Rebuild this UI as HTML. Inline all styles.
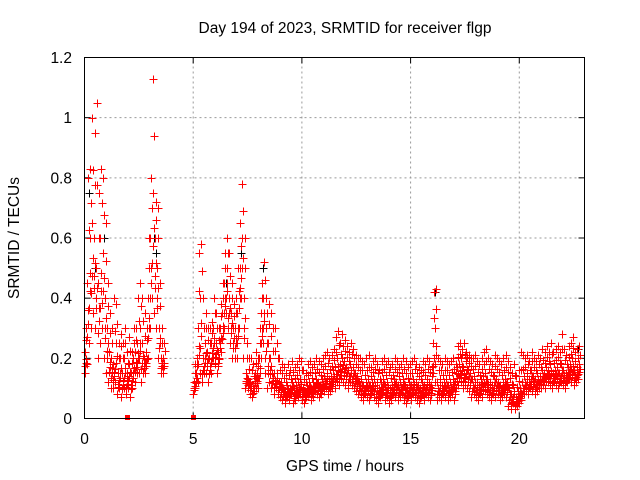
<!DOCTYPE html>
<html><head><meta charset="utf-8"><style>
body{margin:0;background:#fff}
svg{display:block;font-family:"Liberation Sans",Arial,sans-serif}
</style></head><body>
<svg id="chart" width="640" height="480">
<text x="345" y="33" text-anchor="middle" font-size="15.5">Day 194 of 2023, SRMTID for receiver flgp</text>
<text x="345" y="471" text-anchor="middle" font-size="15.5">GPS time / hours</text>
<text transform="translate(19,238) rotate(-90)" text-anchor="middle" font-size="15.5">SRMTID / TECUs</text>
<g id="grid"></g>
<g id="ticks"></g>
<g id="marks"></g>
<rect x="84.5" y="57.5" width="500" height="361" fill="none" stroke="#000"/>
</svg>
<script>
const xTicks=[0,5,10,15,20];
const yTicks=[0,0.2,0.4,0.6,0.8,1,1.2];
const yTickLabels=["0","0.2","0.4","0.6","0.8","1","1.2"];
const seg1Start=0.0;
const seg1Lo=[.15,.18,.25,.3,.35,.3,.2,.25,.3,.2,.15,.12,.1,.1,.12,.08,.1,.07,.1,.08,.1,.07,.1,.12,.15,.15,.12,.15,.15,.2,.3,.4,.35,.3,.2,.15,.15];
const seg1Mid=[.22,.45,.6,.65,.6,.5,.45,.6,.55,.4,.3,.22,.2,.18,.25,.15,.2,.15,.2,.15,.18,.15,.2,.22,.25,.3,.25,.2,.22,.4,.6,.75,.6,.5,.3,.2,.2];
const seg1Hi=[.3,.8,.83,1.0,.95,1.05,.75,.83,.8,.65,.45,.35,.3,.4,.38,.25,.28,.25,.3,.22,.27,.22,.3,.3,.4,.45,.4,.35,.3,.6,.8,1.13,.72,.7,.45,.3,.25];
const seg2Start=5.0;
const seg2Lo=[.08,.1,.12,.15,.12,.15,.15,.12,.15,.2,.18,.15,.2,.22,.3,.35,.3,.25,.2,.2,.2,.3,.4,.2,.1,.1,.08,.07,.1,.1,.1,.2,.25,.15,.1,.12,.1,.08,.1,.08,.07,
.06,.05,.07,.06,.08,.05,.06,.07,.08,.06,.05,.07,.08,.06,.07,.09,.08,.07,.08,.09,.1,.08,.09,.1,
.1,.12,.11,.13,.12,.11,.1,.12,.11,.1,.09,
.08,.07,.06,.08,.07,.06,.08,.07,.06,.05,.07,.08,.06,.07,.05,.06,.08,.07,.06,.07,.08,.06,.05,.07,.06,.08,.07,.06,.05,.07,.06,.08,.07,.06,
.1,.12,.06,.07,.06,.08,.07,.06,.07,.08,.06,
.1,.11,.12,.1,.11,.1,.09,
.07,.08,.07,.06,.08,.07,.09,.08,.07,.06,.08,.07,.08,.06,.07,.08,.07,
.04,.03,.05,.03,.04,.05,.06,
.08,.09,.08,.1,.09,.08,.09,.1,
.1,.11,.1,.12,.11,.1,.12,.11,.1,.12,.11,.1,.12,.13,.12,.11,.12,.13];
const seg2Mid=[.12,.15,.3,.4,.2,.25,.22,.2,.25,.3,.25,.22,.3,.35,.45,.5,.4,.35,.3,.3,.35,.5,.6,.4,.15,.13,.12,.1,.15,.15,.2,.35,.4,.3,.25,.2,.15,.15,.15,.12,.12,
.1,.09,.11,.1,.12,.1,.11,.12,.13,.1,.09,.11,.12,.1,.12,.13,.12,.11,.13,.14,.15,.13,.14,.16,
.17,.2,.18,.2,.19,.17,.16,.18,.17,.15,.14,
.12,.13,.11,.12,.13,.11,.12,.13,.12,.1,.12,.13,.11,.12,.1,.11,.13,.12,.11,.12,.13,.11,.1,.12,.11,.13,.12,.11,.1,.12,.11,.13,.12,.11,
.25,.3,.12,.13,.11,.12,.13,.11,.12,.13,.12,
.17,.18,.2,.17,.19,.16,.15,
.13,.14,.12,.11,.13,.14,.15,.13,.12,.11,.14,.13,.12,.11,.12,.13,.12,
.1,.08,.11,.07,.09,.1,.12,
.14,.15,.13,.16,.14,.13,.15,.14,
.16,.15,.17,.16,.18,.15,.16,.17,.15,.18,.16,.15,.17,.18,.2,.16,.17,.18];
const seg2Hi=[.18,.2,.55,.58,.4,.35,.3,.3,.32,.4,.35,.3,.38,.45,.55,.6,.55,.45,.38,.4,.5,.65,.78,.6,.25,.2,.2,.18,.22,.2,.3,.45,.52,.4,.38,.35,.3,.3,.25,.2,.18,
.17,.15,.18,.16,.19,.17,.18,.2,.19,.16,.15,.18,.19,.17,.18,.2,.19,.18,.2,.21,.22,.2,.21,.23,
.27,.29,.25,.28,.26,.24,.22,.25,.23,.21,.2,
.2,.19,.18,.2,.21,.17,.19,.2,.18,.16,.19,.2,.18,.19,.17,.18,.2,.19,.17,.18,.2,.19,.17,.18,.19,.2,.18,.17,.16,.19,.18,.2,.19,.17,
.42,.43,.2,.19,.18,.2,.19,.18,.19,.2,.18,
.24,.25,.23,.25,.22,.21,.2,
.2,.21,.19,.18,.2,.22,.23,.2,.19,.18,.21,.2,.19,.18,.2,.21,.19,
.17,.15,.18,.14,.16,.22,.21,
.2,.21,.19,.22,.2,.19,.21,.2,
.23,.22,.24,.22,.25,.22,.23,.24,.22,.28,.23,.21,.24,.25,.27,.22,.23,.24];
const blackX=[0.2,0.5,0.9,3.2,3.3,6.5,7.2,8.2,16.1,22.7];
const blackY=[0.75,0.5,0.6,0.6,0.55,0.45,0.55,0.5,0.42,0.23];
const zeroMarkX=[1.95,5.0];

const NS="http://www.w3.org/2000/svg";
const X0=84.5,X1=584.5,XMAX=23,Y0=418.5,Y1=57.5,YMAX=1.2;
function sx(v){return X0+(X1-X0)*v/XMAX;}
function sy(v){return Y0-(Y0-Y1)*v/YMAX;}
function mk(tag,attrs,parent){const e=document.createElementNS(NS,tag);for(const k in attrs)e.setAttribute(k,attrs[k]);parent.appendChild(e);return e;}
const grid=document.getElementById('grid'),ticks=document.getElementById('ticks'),marks=document.getElementById('marks');
xTicks.forEach((t,i)=>{
  const x=sx(t);
  if(t>0){const g=mk('line',{x1:x,x2:x,y1:Y0,y2:Y1,stroke:'#999','stroke-dasharray':'2,3'},grid);
  
  }
  mk('line',{x1:x,x2:x,y1:Y0,y2:Y0-6,stroke:'#000'},ticks);
  mk('line',{x1:x,x2:x,y1:Y1,y2:Y1+6,stroke:'#000'},ticks);
  const l=mk('text',{x:x,y:444,'text-anchor':'middle','font-size':15.5},ticks);l.textContent=t;
  
  
});
yTicks.forEach((t,i)=>{
  const y=sy(t);
  if(t>0&&t<YMAX){const g=mk('line',{x1:X0,x2:X1,y1:y,y2:y,stroke:'#999','stroke-dasharray':'2,3'},grid);
  
  }
  mk('line',{x1:X0,x2:X0+6,y1:y,y2:y,stroke:'#000'},ticks);
  mk('line',{x1:X1,x2:X1-6,y1:y,y2:y,stroke:'#000'},ticks);
  const l=mk('text',{x:72,y:y+5.5,'text-anchor':'end','font-size':15.5},ticks);l.textContent=yTickLabels[i];
  
  
});
let d='';
function px(v){return Math.round(v)+0.5;}
function plus(x,y){const X=px(sx(x)),Y=px(sy(y));d+=`M${X-4} ${Y}h8M${X} ${Y-4}v8`;}
function seg(start,lo,mid,hi){
  for(let i=0;i<lo.length;i++){
    const t=start+i*0.1;
    plus(t,lo[i]);plus(t+0.033,mid[i]);plus(t+0.066,hi[i]);
    plus(t+0.05,(lo[i]+mid[i])/2);plus(t+0.085,(mid[i]+hi[i])/2);
    plus(t+0.02,(lo[i]*2+mid[i])/3);plus(t+0.075,(mid[i]*2+lo[i])/3);
  }
}
let db='';
blackX.forEach((x,i)=>{const X=px(sx(x)),Y=px(sy(blackY[i]));db+=`M${X-4} ${Y}h8M${X} ${Y-4}v8`;});
const pb=mk('path',{d:db,stroke:'#000','stroke-width':1,fill:'none'},marks);


seg(seg1Start,seg1Lo,seg1Mid,seg1Hi);
seg(seg2Start,seg2Lo,seg2Mid,seg2Hi);
const pr=mk('path',{d:d,stroke:'#f00','stroke-width':1,fill:'none','shape-rendering':'crispEdges'},marks);


zeroMarkX.forEach(x=>{
  const r=mk('rect',{x:Math.round(sx(x))-2,y:Y0-3.5,width:5,height:5,fill:'#f00'},marks);
  
  
});
</script>
</body></html>
